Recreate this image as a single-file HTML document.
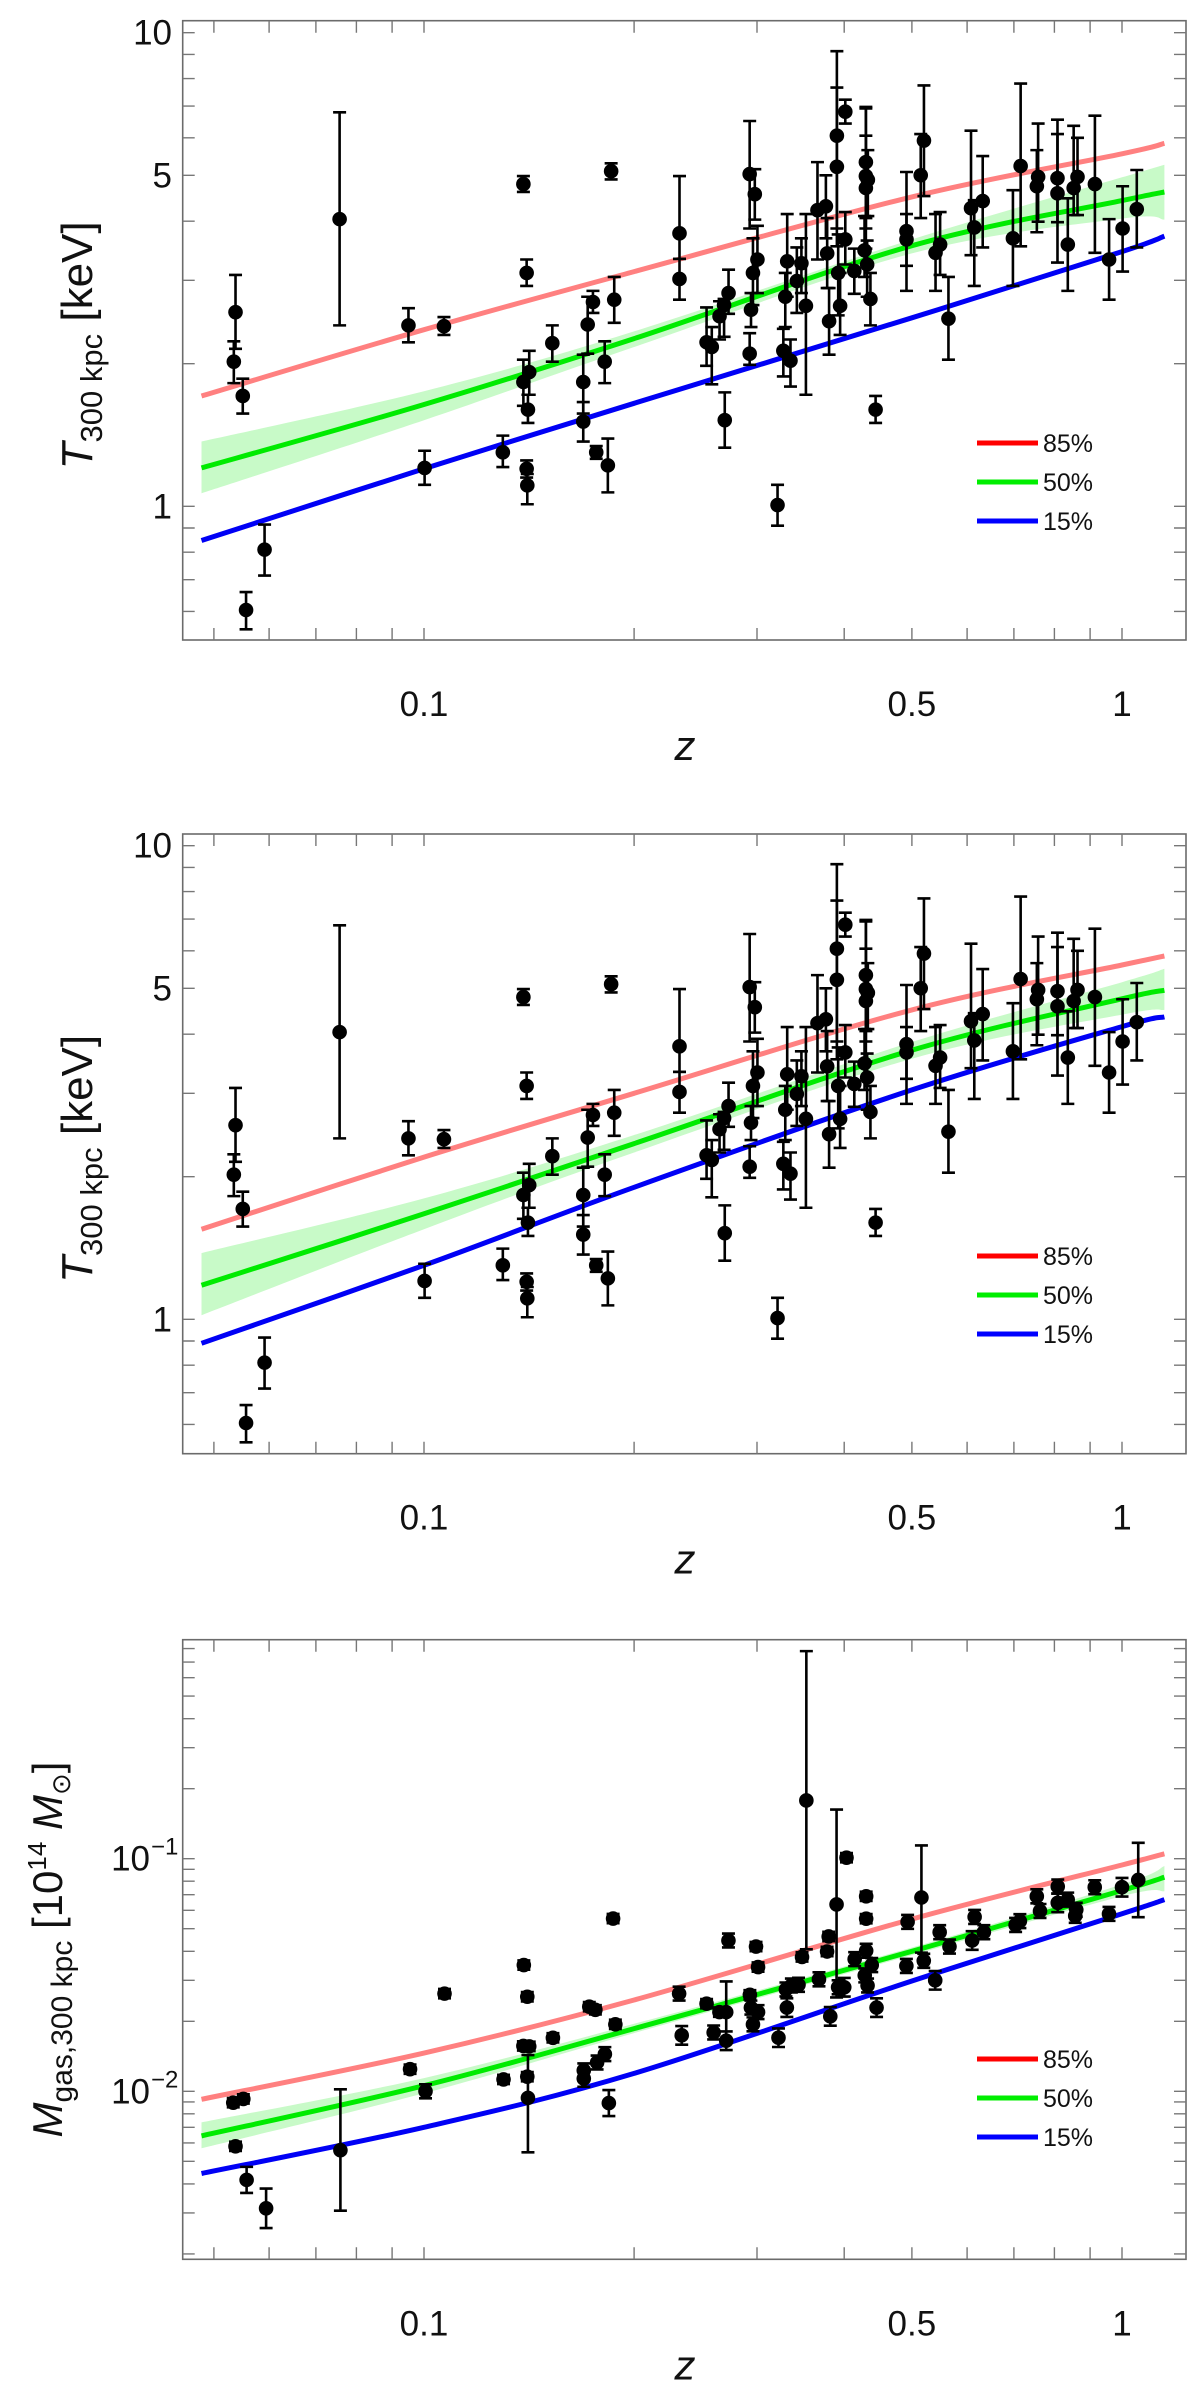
<!DOCTYPE html>
<html><head><meta charset="utf-8"><title>Scaling relations vs redshift</title>
<style>
html,body{margin:0;padding:0;background:#fff;}
svg{display:block;font-family:"Liberation Sans",sans-serif;}
</style></head>
<body>
<svg id="fig" width="1200" height="2393" viewBox="0 0 1200 2393" xmlns="http://www.w3.org/2000/svg"></svg>
<script>
// ---- shared redshift grid for percentile curves ----
const zGrid = [0.048, 0.1, 0.2, 0.5, 1.0, 1.15];
// panel 1 curves (T300kpc, keV)
const p1Red = [1.71, 2.36, 3.13, 4.50, 5.55, 5.84];
const p1Green = [1.205, 1.64, 2.26, 3.55, 4.42, 4.61];
const p1BandHi = [1.37, 1.75, 2.34, 3.66, 4.95, 5.26];
const p1BandLo = [1.065, 1.52, 2.17, 3.42, 4.05, 4.03];
const p1Blue = [0.847, 1.20, 1.65, 2.50, 3.45, 3.72];
// panel 2 curves
const p2Red = [1.55, 2.2, 3.0, 4.5, 5.6, 5.85];
const p2Green = [1.18, 1.67, 2.35, 3.7, 4.75, 4.95];
const p2BandHi = [1.38, 1.8, 2.45, 3.85, 5.15, 5.5];
const p2BandLo = [1.02, 1.55, 2.25, 3.55, 4.4, 4.5];
const p2Blue = [0.89, 1.3, 1.9, 3.05, 4.15, 4.35];
// panel 3 curves (Mgas, 1e14 Msun)
const p3Red = [0.00924, 0.0146, 0.0247, 0.0550, 0.0940, 0.105];
const p3Green = [0.00643, 0.01057, 0.0186, 0.0400, 0.0730, 0.0833];
const p3BandHi = [0.00735, 0.0114, 0.0195, 0.0415, 0.0775, 0.093];
const p3BandLo = [0.00569, 0.0098, 0.0178, 0.0385, 0.0690, 0.0724];
const p3Blue = [0.00443, 0.00700, 0.01194, 0.0298, 0.0580, 0.0667];

// ---- temperature data (panels 1 & 2) ----
const tZ = [0.0537,0.0534,0.0550,0.0591,0.0556,0.0757,0.0950,0.1068,0.1002,0.1297,
0.1388,0.1403,0.1388,0.1415,0.1409,0.1403,0.1406,0.1527,0.1691,0.1691,
0.1716,0.1746,0.1765,0.1815,0.1834,0.1854,0.1873,0.2323,0.2323,0.2540,
0.2584,0.2651,0.2697,0.2691,0.2731,0.2928,0.2978,0.3004,0.2960,0.2941,
0.2928,0.3293,0.3314,0.3272,0.3350,0.3421,0.3473,0.3525,0.3210,0.3662,
0.3765,0.3781,0.3805,0.3904,0.3904,0.3921,0.3946,0.4014,0.4014,0.4135,
0.4296,0.4296,0.4296,0.4324,0.4277,0.4314,0.4361,0.4436,0.4912,0.4912,
0.5148,0.5203,0.5406,0.5488,0.5641,0.6077,0.6143,0.6316,0.6978,0.7158,
0.7551,0.7583,0.8083,0.8083,0.8363,0.8526,0.8635,0.9145,0.9583,1.002,1.050];
const tVal = [2.57,2.02,1.71,0.81,0.604,4.04,2.41,2.40,1.205,1.30,
4.79,3.11,1.83,1.92,1.60,1.20,1.107,2.21,1.83,1.51,
2.42,2.70,1.30,2.02,1.22,5.10,2.73,3.77,3.02,2.22,
2.17,2.52,1.52,2.66,2.82,5.03,4.56,3.32,3.11,2.60,
2.10,2.77,3.29,2.13,2.03,2.99,3.26,2.65,1.006,4.22,
4.30,3.42,2.46,6.06,5.21,3.11,2.65,6.81,3.66,3.14,
5.33,4.98,4.70,4.89,3.47,3.24,2.74,1.60,3.81,3.66,
5.00,5.92,3.43,3.57,2.49,4.26,3.88,4.41,3.68,5.23,
4.74,4.96,4.93,4.58,3.57,4.70,4.96,4.79,3.32,3.86,4.24];
const tHi = [3.08,2.23,1.86,0.915,0.659,6.79,2.62,2.51,1.31,1.41,
4.98,3.32,2.04,2.13,1.72,1.25,1.17,2.41,2.09,1.66,
2.77,2.85,1.34,2.23,1.39,5.30,3.05,4.98,3.33,2.63,
2.39,2.71,1.74,2.74,3.16,6.51,5.15,3.91,3.68,2.82,
2.32,3.11,4.14,2.37,2.25,3.52,3.68,4.14,1.11,5.33,
5.00,4.06,2.89,9.14,7.66,3.75,3.11,7.22,4.18,3.50,
6.97,6.92,6.06,5.65,4.10,3.64,3.11,1.71,5.08,4.14,
6.11,7.74,4.14,4.18,3.05,6.21,4.43,5.49,4.65,7.81,
5.65,6.43,6.55,6.11,4.47,6.36,6.00,6.68,4.04,4.74,5.13];
const tLo = [2.15,1.82,1.57,0.714,0.550,2.41,2.22,2.30,1.11,1.21,
4.61,2.92,1.63,1.72,1.50,1.15,1.01,2.02,1.57,1.37,
2.10,2.56,1.26,1.82,1.07,4.90,2.44,3.33,2.73,1.98,
1.81,2.25,1.33,2.28,2.55,3.86,4.03,2.82,2.66,2.39,
1.99,2.39,2.77,1.88,1.79,2.56,2.82,1.72,0.91,3.32,
3.68,2.89,2.09,3.86,3.54,2.53,2.30,6.43,3.24,2.81,
4.06,3.86,3.50,4.10,3.05,2.77,2.41,1.50,3.22,2.85,
4.06,4.52,2.85,3.08,2.04,3.39,2.92,3.52,2.92,3.54,
3.79,3.99,3.98,3.27,2.85,4.12,4.12,3.43,2.73,3.13,3.52];

// ---- gas mass data (panel 3) ----
const mZ = [0.0533,0.0551,0.0537,0.0557,0.0594,0.0759,0.0955,0.1005,0.107,0.130,
0.139,0.1406,0.1388,0.1415,0.1406,0.1409,0.153,0.1694,0.1694,0.1725,
0.176,0.177,0.1816,0.184,0.1866,0.188,0.232,0.234,0.254,0.26,
0.265,0.271,0.271,0.273,0.293,0.294,0.299,0.301,0.296,0.301,
0.322,0.33,0.331,0.336,0.344,0.353,0.348,0.368,0.378,0.38,
0.382,0.39,0.392,0.403,0.40,0.414,0.43,0.43,0.43,0.428,
0.432,0.438,0.445,0.491,0.493,0.516,0.52,0.54,0.548,0.566,
0.61,0.615,0.634,0.704,0.714,0.755,0.763,0.809,0.809,0.836,
0.857,0.86,0.914,0.958,1.0,1.055];
const mVal = [0.00893,0.00927,0.0058,0.00416,0.00314,0.00558,0.01245,0.0100,0.0263,0.01125,
0.0349,0.0255,0.01567,0.0156,0.01156,0.00937,0.01698,0.0123,0.01134,0.0231,
0.0224,0.0133,0.01445,0.0089,0.0553,0.0194,0.0263,0.0174,0.0238,0.0179,
0.0219,0.0219,0.0165,0.0445,0.026,0.0229,0.0419,0.0342,0.0194,0.0219,
0.017,0.0274,0.0229,0.0285,0.0287,0.178,0.0378,0.0303,0.0399,0.0463,
0.021,0.0636,0.028,0.101,0.028,0.037,0.0689,0.0552,0.0402,0.0315,
0.0285,0.0349,0.0229,0.0346,0.0535,0.0681,0.0364,0.030,0.0483,0.0419,
0.0445,0.0562,0.0483,0.0519,0.0539,0.0689,0.0596,0.0759,0.0646,0.0667,
0.0568,0.0603,0.0754,0.0579,0.0754,0.081];
const mErrUp = [0.02,0.02,0.02,0.056,0.085,0.262,0.02,0.03,0.02,0.02,
0.02,0.02,0.02,0.02,0.02,0.184,0.02,0.03,0.035,0.02,
0.02,0.03,0.03,0.056,0.02,0.02,0.03,0.04,0.02,0.03,
0.02,0.132,0.04,0.03,0.02,0.03,0.02,0.02,0.03,0.03,
0.04,0.03,0.04,0.03,0.03,0.642,0.02,0.03,0.02,0.02,
0.04,0.408,0.03,0.02,0.04,0.03,0.02,0.02,0.03,0.03,
0.03,0.03,0.04,0.03,0.03,0.224,0.03,0.04,0.03,0.03,
0.04,0.03,0.03,0.03,0.03,0.03,0.03,0.03,0.04,0.03,
0.03,0.03,0.03,0.03,0.04,0.16];
const mErrDn = [0.02,0.02,0.02,0.056,0.085,0.26,0.02,0.03,0.02,0.02,
0.02,0.02,0.02,0.02,0.02,0.234,0.02,0.03,0.035,0.02,
0.02,0.03,0.03,0.056,0.02,0.02,0.03,0.04,0.02,0.03,
0.02,0.132,0.04,0.03,0.02,0.03,0.02,0.02,0.03,0.03,
0.04,0.03,0.04,0.03,0.03,0.64,0.02,0.03,0.02,0.02,
0.04,0.40,0.03,0.02,0.04,0.03,0.02,0.02,0.03,0.03,
0.03,0.03,0.04,0.03,0.03,0.237,0.03,0.04,0.03,0.03,
0.04,0.03,0.03,0.03,0.03,0.03,0.03,0.03,0.04,0.03,
0.03,0.03,0.03,0.03,0.04,0.16];

const xTickMinor = [0.05,0.06,0.07,0.08,0.09,0.2,0.3,0.4,0.6,0.7,0.8,0.9];
const xTickMajor = [0.1,0.5,1];
const xTickLabels = ["0.1","0.5","1"];
const tTicks = [0.6,0.7,0.8,0.9,1,2,3,4,5,6,7,8,9,10];
const tTickLabelVals = [1,5,10];
const tTickLabels = ["1","5","10"];
const mTicks = [0.002,0.003,0.004,0.005,0.006,0.007,0.008,0.009,0.01,0.02,0.03,0.04,0.05,0.06,0.07,0.08,0.09,0.1,0.2,0.3,0.4,0.5,0.6,0.7,0.8];
const mTickLabelVals = [0.1,0.01];
const mTickExp = ["\u22121","\u22122"];
const legendLabels = ["85%","50%","15%"];

const NS = "http://www.w3.org/2000/svg";
const svg = document.getElementById("fig");
const L = 182.7, R = 1186;
function xOf(z){ return 424 + 698*(Math.log10(z)+1); }
function el(tag, attrs, parent){
  const e = document.createElementNS(NS, tag);
  for (const k in attrs) e.setAttribute(k, attrs[k]);
  (parent||svg).appendChild(e);
  return e;
}
// smooth Catmull-Rom path through screen points
function smooth(pts, start){
  let d = (start||"M") + pts[0][0].toFixed(1) + "," + pts[0][1].toFixed(1);
  for (let i=0;i<pts.length-1;i++){
    const p0 = pts[Math.max(i-1,0)], p1 = pts[i], p2 = pts[i+1], p3 = pts[Math.min(i+2,pts.length-1)];
    const c1 = [p1[0]+(p2[0]-p0[0])/6, p1[1]+(p2[1]-p0[1])/6];
    const c2 = [p2[0]-(p3[0]-p1[0])/6, p2[1]-(p3[1]-p1[1])/6];
    d += `C${c1[0].toFixed(1)},${c1[1].toFixed(1)} ${c2[0].toFixed(1)},${c2[1].toFixed(1)} ${p2[0].toFixed(1)},${p2[1].toFixed(1)}`;
  }
  return d;
}

function buildPanel(idx, top, bottom, yOf, curves, ticks, kind){
  const g = el("g", {});
  
  

  // band
  const hiPts = zGrid.map((z,i)=>[xOf(z), yOf(curves.bandHi[i])]);
  const loPts = zGrid.map((z,i)=>[xOf(z), yOf(curves.bandLo[i])]).reverse();
  const bd = smooth(hiPts) + smooth(loPts, "L") + "Z";
  const band = el("path", {d: bd, fill:"rgb(200,250,200)", stroke:"none"}, g);
  
  

  const specs = [["red","rgb(255,128,128)","curve-85-percent"],["green","rgb(0,235,0)","curve-50-percent"],["blue","rgb(0,0,245)","curve-15-percent"]];
  specs.forEach(s=>{
    const pts = curves[s[0]].map((v,i)=>[xOf(zGrid[i]), yOf(v)]);
    const c = el("path", {d:smooth(pts), fill:"none", stroke:s[1], "stroke-width":5, "stroke-linejoin":"round"}, g);
    
    
  });

  // data points
  const pts = el("g", {}, g);
  
  
  const n = kind==="T" ? tZ.length : mZ.length;
  for (let i=0;i<n;i++){
    let z, v, hi, lo;
    if (kind==="T"){ z=tZ[i]; v=tVal[i]; hi=tHi[i]; lo=tLo[i]; }
    else { z=mZ[i]; v=mVal[i]; hi=v*Math.pow(10,mErrUp[i]); lo=v/Math.pow(10,mErrDn[i]); }
    const x = xOf(z), y1 = yOf(hi), y2 = yOf(lo), y = yOf(v);
    const eb = el("path", {d:`M${x},${y1}V${y2}M${x-6.5},${y1}H${x+6.5}M${x-6.5},${y2}H${x+6.5}`, stroke:"#000","stroke-width":2.6, fill:"none"}, pts);
    
    
    const dot = el("ellipse", {cx:x, cy:y, rx:7.3, ry:7.3, fill:"#000"}, pts);
    
    
  }

  // frame
  const fr = el("rect", {x:L, y:top, width:R-L, height:bottom-top, fill:"none", stroke:"#6b6b6b", "stroke-width":1.6}, g);
  
  

  let td = "";
  xTickMinor.concat(xTickMajor).forEach(z=>{
    const x = xOf(z).toFixed(1);
    td += `M${x},${bottom}v-12M${x},${top}v12`;
  });
  ticks.vals.forEach(v=>{
    const y = yOf(v).toFixed(1);
    td += `M${L},${y}h12M${R},${y}h-12`;
  });
  const tk = el("path", {d:td, stroke:"#777", "stroke-width":1.4, fill:"none"}, g);
  
  

  xTickMajor.forEach((z,i)=>{
    const t = el("text", {x:xOf(z), y:bottom+76, "font-size":35, "text-anchor":"middle", fill:"#111"}, g);
    t.textContent = xTickLabels[i];
    
    
  });
  const zt = el("text", {x:685, y:bottom+120, "font-size":42, "font-style":"italic", "text-anchor":"middle", fill:"#111"}, g);
  zt.textContent = "z";
  
  

  if (kind==="T"){
    tTickLabelVals.forEach((v,i)=>{
      const t = el("text", {x:172, y:yOf(v)+12, "font-size":35, "text-anchor":"end", fill:"#111"}, g);
      t.textContent = tTickLabels[i];
      
      
    });
    const cy = (top+bottom)/2 + 15;
    const yt = el("text", {transform:`translate(92,${cy}) rotate(-90)`, "font-size":44, "text-anchor":"middle", fill:"#111"}, g);
    
    
    yt.innerHTML = '<tspan font-style="italic">T</tspan><tspan font-size="31" dy="10">300 kpc</tspan><tspan dy="-10"> [keV]</tspan>';
  } else {
    mTickLabelVals.forEach((v,i)=>{
      const t = el("text", {x:150, y:yOf(v)+12, "font-size":35, "text-anchor":"end", fill:"#111"}, g);
      t.textContent = "10";
      
      
      const s = el("text", {x:151, y:yOf(v)-4, "font-size":24, "text-anchor":"start", fill:"#111"}, g);
      s.textContent = mTickExp[i];
      
      
    });
    const cy = (top+bottom)/2;
    const yt = el("text", {transform:`translate(62,${cy}) rotate(-90)`, "font-size":42, "text-anchor":"middle", fill:"#111"}, g);
    
    
    yt.innerHTML = '<tspan font-style="italic">M</tspan><tspan font-size="30" dy="10">gas,300 kpc</tspan><tspan dy="-10"> [10</tspan><tspan font-size="26" dy="-16">14</tspan><tspan dy="16"> </tspan><tspan font-style="italic">M</tspan><tspan font-family="DejaVu Sans" font-size="26" dy="8">\u2299</tspan><tspan dy="-8">]</tspan>';
  }

  const lg = el("g", {}, g);
  
  
  const lcol = ["#ff0000","#00ee00","#0000ff"];
  legendLabels.forEach((lab,i)=>{
    const ly = ticks.legendY + i*39;
    const ln = el("line", {x1:977, x2:1038, y1:ly, y2:ly, stroke:lcol[i], "stroke-width":5}, lg);
    
    
    const tx = el("text", {x:1043, y:ly+9, "font-size":25, fill:"#111"}, lg);
    tx.textContent = lab;
    
    
  });
}

buildPanel(1, 20.7, 640, v=>506.3-473.6*Math.log10(v),
  {red:p1Red, green:p1Green, bandHi:p1BandHi, bandLo:p1BandLo, blue:p1Blue},
  {vals:tTicks, legendY:443}, "T");
buildPanel(2, 834, 1453.7, v=>1319.3-473.6*Math.log10(v),
  {red:p2Red, green:p2Green, bandHi:p2BandHi, bandLo:p2BandLo, blue:p2Blue},
  {vals:tTicks, legendY:1256}, "T");
buildPanel(3, 1639.7, 2259.3, v=>1626.1-232.6*Math.log10(v),
  {red:p3Red, green:p3Green, bandHi:p3BandHi, bandLo:p3BandLo, blue:p3Blue},
  {vals:mTicks, legendY:2059}, "M");
</script>
</body></html>
